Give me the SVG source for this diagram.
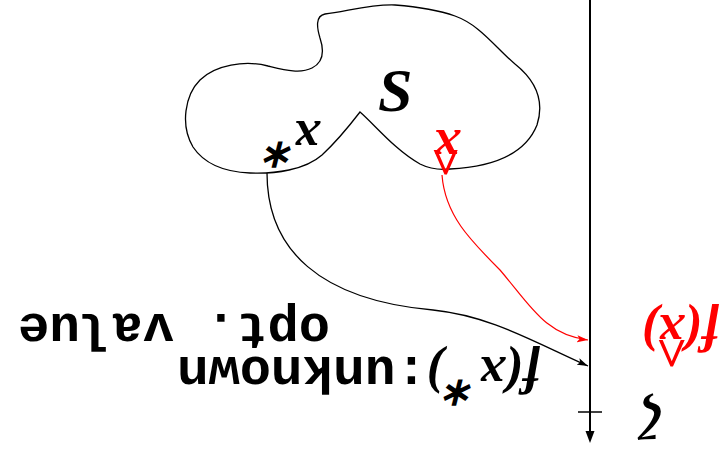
<svg xmlns="http://www.w3.org/2000/svg" width="725" height="454" viewBox="0 0 725 454">
<style>
.m{font-family:"Liberation Serif","Times New Roman",serif;font-style:italic;font-weight:bold;font-size:52px}
.t{font-family:"Liberation Mono","Courier New",monospace;font-style:normal;font-weight:bold;font-size:52px}
.blk{fill:#000}
.red{fill:#ff0000}
.ln{fill:none;stroke:#000;stroke-width:1.3}
.lr{fill:none;stroke:#ff0000;stroke-width:1.2}
</style>
<defs>
<marker id="ah" markerWidth="12" markerHeight="8" refX="11" refY="4" orient="auto" markerUnits="userSpaceOnUse">
<path d="M0,0.5 L11,4 L0,7.5 L2.5,4 Z" fill="#000"/>
</marker>
<marker id="ahr" markerWidth="12" markerHeight="8" refX="11" refY="4" orient="auto" markerUnits="userSpaceOnUse">
<path d="M0,0.5 L11,4 L0,7.5 L2.5,4 Z" fill="#ff0000"/>
</marker>
</defs>
<g id="set-S">
<path class="ln" d="M360,112 C375,125 395,150 420,164 C430,169 440,170 450,169 C490,167 525,155 537,125 C545,100 535,80 515,64 C495,47 480,25 455,16 C438,10 420,7 395,5 C370,4 345,12 325,14 C315,16 317,28 320,38 C324,50 324,62 312,68 C300,74 285,70 268,66 C245,60 215,65 200,80 C185,95 180,125 193,147 C205,165 225,172 250,173 C275,174 305,170 322,155 C335,143 350,125 360,112 Z"/>
<text class="m blk" x="378" y="111" style="font-size:62px">S</text>
</g>
<g id="axis">
<line x1="590" y1="0" x2="590" y2="433" stroke="#000" stroke-width="2"/>
<path d="M585.5,431 L594.5,431 L590,443 Z" fill="#000"/>
<line x1="578" y1="412" x2="602" y2="412" stroke="#000" stroke-width="1.5"/>
<text class="m blk" transform="translate(662 403) rotate(180)">ζ</text>
</g>
<g id="point-xstar">
<text class="m blk" transform="translate(320 121) rotate(180)">x<tspan dx="-3" dy="-21" style="font-size:40px">∗</tspan></text>
</g>
<g id="point-xhat">
<text class="m red" transform="translate(461 130) rotate(180)">x<tspan dx="-27" dy="-10">^</tspan></text>
</g>
<g id="value-fxstar">
<text class="m blk" transform="translate(540 357) rotate(180)">f(x<tspan dx="2" dy="-23" style="font-size:40px">∗</tspan><tspan dy="23">)</tspan></text>
<text class="t blk" transform="translate(427 357) rotate(180)">:unknown</text>
<text class="t blk" transform="translate(330 314) rotate(180)">opt. value</text>
</g>
<g id="value-fxhat">
<text class="m red" transform="translate(719 315) rotate(180)">f(x<tspan dx="-30" dy="-14" style="font-size:56px">^</tspan><tspan dx="-2" dy="14">)</tspan></text>
</g>
<g id="connectors">
<path class="ln" d="M267,173 C267,250 320,300 433,310 C490,316 530,340 588,366" marker-end="url(#ah)"/>
<path class="lr" d="M442,175 C445,215 470,240 500,270 C530,305 545,335 588,340" marker-end="url(#ahr)"/>
</g>
</svg>
